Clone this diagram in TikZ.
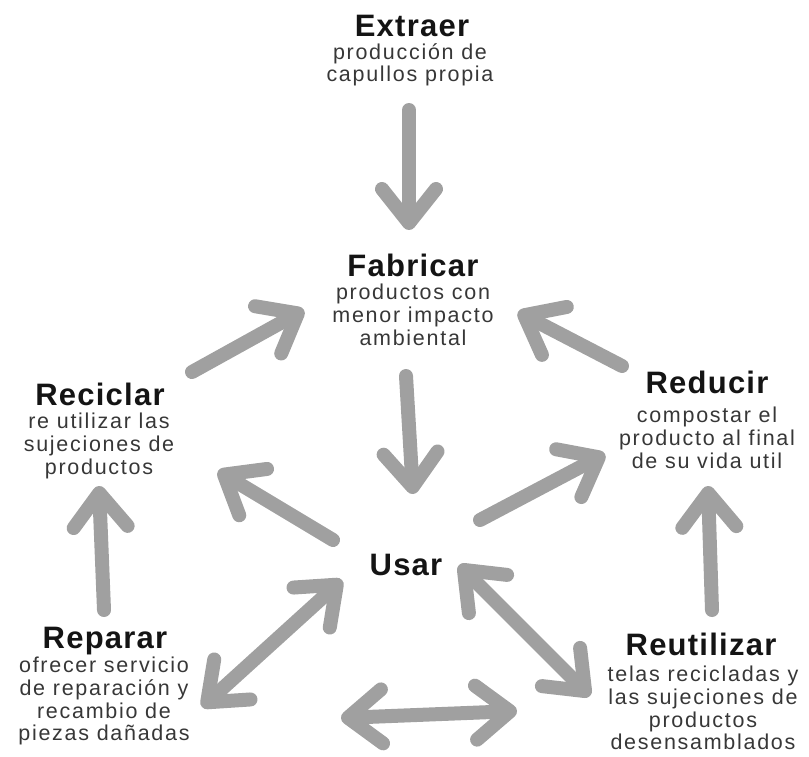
\documentclass[tikz,border=0pt]{standalone}
\usepackage{fontspec}
\setmainfont{Liberation Sans}
\usetikzlibrary{arrows.meta}
\definecolor{arrowgray}{RGB}{160,160,160}
\definecolor{txtgray}{RGB}{55,55,55}
\definecolor{ttlblack}{RGB}{20,20,20}
\begin{document}
\begin{tikzpicture}[x=1pt,y=-1pt,
  ttl/.style={font=\fontsize{31}{33}\selectfont\bfseries\addfontfeature{LetterSpace=4}, text=ttlblack, inner sep=0pt, anchor=base},
  dsc/.style={font=\fontsize{21.5}{22.7}\selectfont\addfontfeature{LetterSpace=8}, text=txtgray, align=center, inner sep=0pt, anchor=north},
  tipa/.tip={Straight Barb[length=34pt,width=54pt,round]},
  flow/.style={draw=arrowgray, line width=14pt, line cap=round, line join=round, -tipa},
  both/.style={draw=arrowgray, line width=14pt, line cap=round, line join=round, tipa-tipa}]
\useasboundingbox (0,0) rectangle (809,756);

% titles and descriptions
\node[ttl] (tExt) at (412,36) {Extraer};
\node[dsc] (dExt) at (410,43) {producción de\\capullos propia};
\node[ttl] (tFab) at (413,276) {Fabricar};
\node[dsc] (dFab) at (413,284) {productos con\\menor impacto\\ambiental};
\node[ttl] (tRec) at (100,405) {Reciclar};
\node[dsc] (dRec) at (99,413) {re utilizar las\\sujeciones de\\productos};
\node[ttl] (tRed) at (707,393) {Reducir};
\node[dsc] (dRed) at (707,407) {compostar el\\producto al final\\de su vida util};
\node[ttl] (tUsa) at (406,575) {Usar};
\node[ttl] (tRep) at (105,648) {Reparar};
\node[dsc] (dRep) at (104,657) {ofrecer servicio\\de reparación y\\recambio de\\piezas dañadas};
\node[ttl] (tReu) at (701,655) {Reutilizar};
\node[dsc] (dReu) at (703,666) {telas recicladas y\\las sujeciones de\\productos\\desensamblados};

% arrow end points
\coordinate (a1s) at (409,110);
\coordinate (a1e) at (409,230);
\coordinate (a2s) at (406,376);
\coordinate (a2e) at (413,494);
\coordinate (a3s) at (192,372);
\coordinate (a3e) at (304,310);
\coordinate (a4s) at (622,366);
\coordinate (a4e) at (518,312);
\coordinate (a5s) at (480,520);
\coordinate (a5e) at (605,454);
\coordinate (a6s) at (333,540);
\coordinate (a6e) at (218,471);
\coordinate (a7s) at (104,610);
\coordinate (a7e) at (99,486);
\coordinate (a8s) at (712,610);
\coordinate (a8e) at (708,486);
\coordinate (a9s) at (202,707);
\coordinate (a9e) at (342,580);
\coordinate (a10s) at (459,565);
\coordinate (a10e) at (590,696);
\coordinate (a11s) at (341,718);
\coordinate (a11e) at (517,711);

\draw[flow] (a1s) -- (a1e);
\draw[flow] (a2s) -- (a2e);
\draw[flow] (a3s) -- (a3e);
\draw[flow] (a4s) -- (a4e);
\draw[flow] (a5s) -- (a5e);
\draw[flow] (a6s) -- (a6e);
\draw[flow] (a7s) -- (a7e);
\draw[flow] (a8s) -- (a8e);
\draw[both] (a9s) -- (a9e);
\draw[both] (a10s) -- (a10e);
\draw[both] (a11s) -- (a11e);
\end{tikzpicture}
\end{document}
